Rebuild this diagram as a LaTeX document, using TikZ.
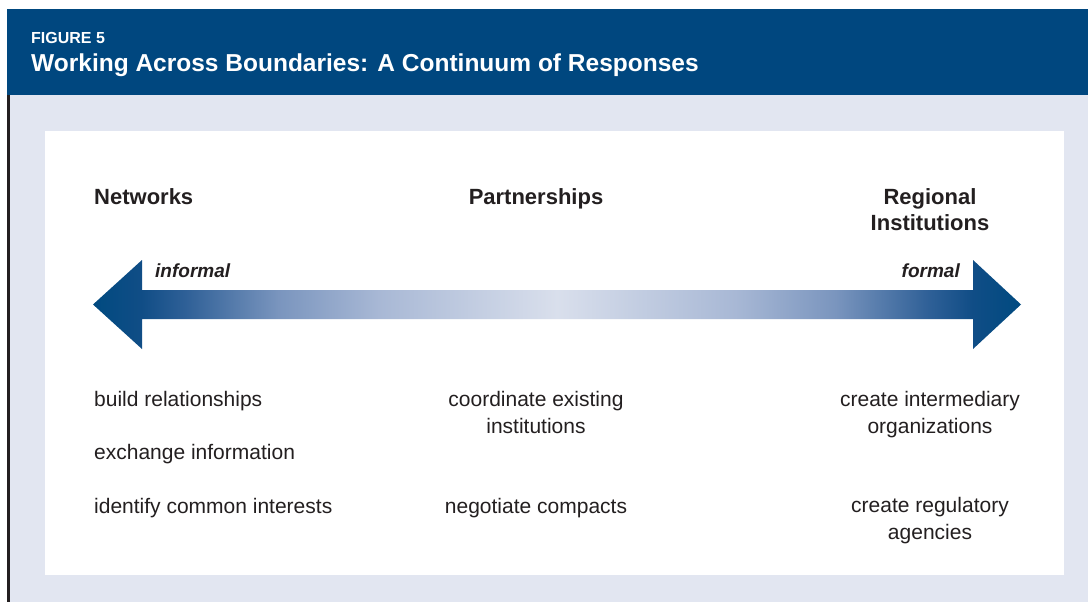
\documentclass[tikz,border=0pt]{standalone}
\usepackage{fontspec}
\setmainfont{Liberation Sans}
\definecolor{hblue}{HTML}{00477F}
\definecolor{bgl}{HTML}{E2E6F1}
\definecolor{edgec}{HTML}{231F20}
\definecolor{ink}{HTML}{231F20}
\definecolor{ablue}{HTML}{004A80}
\definecolor{ab1}{HTML}{104D86}
\definecolor{ab2}{HTML}{2F6097}
\definecolor{ab3}{HTML}{7A95BE}
\definecolor{ab4}{HTML}{A8B8D5}
\definecolor{alight}{HTML}{D9DFEC}
\pgfdeclarehorizontalshading{arrowshade}{100bp}{color(0bp)=(ablue); color(25bp)=(ablue); color(27.6bp)=(ab1); color(30bp)=(ab2); color(35bp)=(ab3); color(40.4bp)=(ab4); color(50bp)=(alight); color(59.6bp)=(ab4); color(65bp)=(ab3); color(70bp)=(ab2); color(72.4bp)=(ab1); color(75bp)=(ablue); color(100bp)=(ablue)}
\tikzset{
  bodytxt/.style={inner sep=0pt, text=ink, font=\fontsize{21}{27}\selectfont, align=center},
  headtxt/.style={inner sep=0pt, text=ink, font=\bfseries\fontsize{22}{26}\selectfont, align=center},
  endtxt/.style={inner sep=0pt, text=ink, font=\bfseries\itshape\fontsize{19}{23}\selectfont},
}
\begin{document}
\begin{tikzpicture}[x=1pt,y=-1pt]
\useasboundingbox (0,0) rectangle (1088,602);
\fill[white] (0,0) rectangle (1088,602);
\fill[bgl] (9,95) rectangle (1088,602);
\fill[hblue] (7,9) rectangle (1088,95);
\fill[edgec] (7,95) rectangle (9.5,602);
\fill[white] (45,131) rectangle (1064,575);
% header text
\node[anchor=base west, inner sep=0pt, text=white, font=\bfseries\fontsize{16}{18}\selectfont] (fig) at (31,43.5) {FIGURE 5};
\node[anchor=base west, inner sep=0pt, text=white, font=\bfseries\fontsize{24.5}{28}\selectfont] (title) at (31,72) {Working Across Boundaries: A Continuum of Responses};
% arrow
\path[shading=arrowshade] (93,304.5) -- (142,260) -- (142,290) -- (973,290) -- (973,260) -- (1021,304.5) -- (973,349) -- (973,319) -- (142,319) -- (142,349) -- cycle;
\node[endtxt, anchor=base west] (inf) at (155,277) {informal};
\node[endtxt, anchor=base east] (form) at (960,277) {formal};
% column heads
\node[headtxt, anchor=base west] (net) at (94,204) {Networks};
\node[headtxt, anchor=base] (part) at (536,204) {Partnerships};
\node[headtxt, anchor=base] (reg) at (930,230) {Regional\\Institutions};
% left column
\node[bodytxt, anchor=base west] (l1) at (94,406) {build relationships};
\node[bodytxt, anchor=base west] (l2) at (94,459) {exchange information};
\node[bodytxt, anchor=base west] (l3) at (94,513) {identify common interests};
% middle column
\node[bodytxt, anchor=base] (m1) at (536,433) {coordinate existing\\institutions};
\node[bodytxt, anchor=base] (m2) at (536,513) {negotiate compacts};
% right column
\node[bodytxt, anchor=base] (r1) at (930,433) {create intermediary\\organizations};
\node[bodytxt, anchor=base] (r2) at (930,539) {create regulatory\\agencies};
\end{tikzpicture}
\end{document}
